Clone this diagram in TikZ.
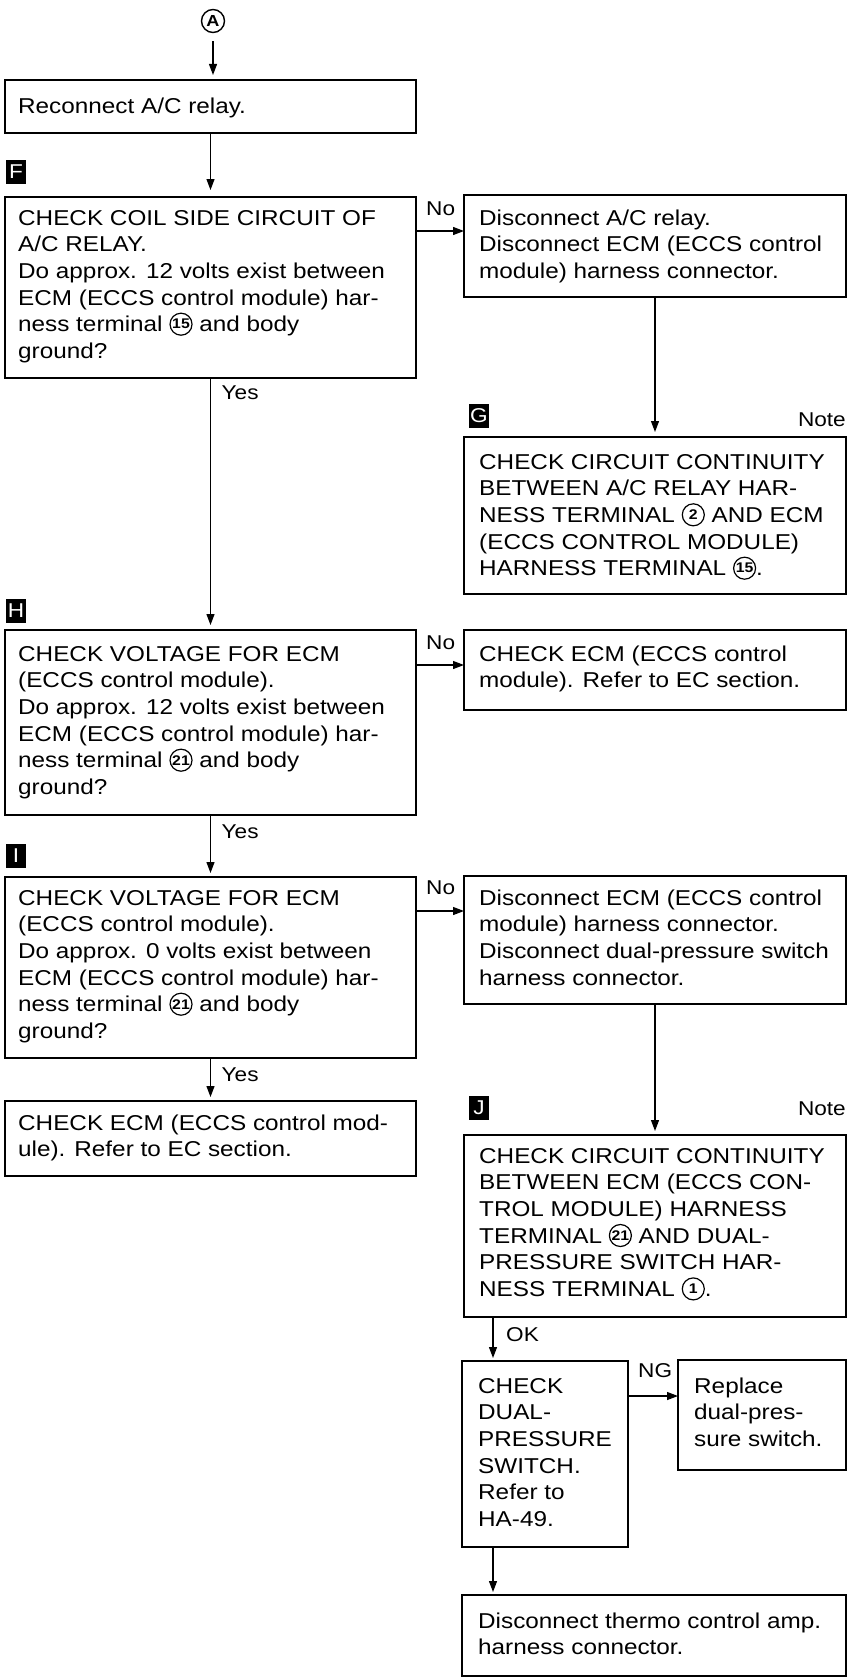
\documentclass[tikz,border=0pt]{standalone}
\usepackage{fontspec}
\setmainfont{Liberation Sans}[FakeStretch=1.13]
\usetikzlibrary{arrows.meta,calc}
\newcommand\cn[1]{\tikz[baseline=-7.6pt]{\draw[line width=1.2pt] (0,0) circle (11pt); \node[anchor=center,inner sep=0pt,draw=none,fill=none,text=black,font=\fontsize{14}{14}\selectfont\bfseries] at (0,0) {#1};}}
\newcommand\bt[1]{\parbox[t]{500pt}{\raggedright #1}}
\begin{document}
\begin{tikzpicture}[x=1pt,y=-1pt,
  box/.style={draw, line width=1.6pt, anchor=north west, inner sep=0pt, outer sep=0pt, rectangle},
  txt/.style={anchor=base west, inner sep=0pt, font=\fontsize{21.5}{26.7}\selectfont},
  lab/.style={fill=black, text=white, minimum width=20pt, minimum height=24pt, inner sep=0pt, font=\fontsize{20}{20}\selectfont},
  arr/.style={line width=1.2pt, -{Triangle[length=11pt,width=8pt]}},
  lbl/.style={inner sep=0pt, font=\fontsize{20}{20}\selectfont}]
\useasboundingbox[fill=white] (0,0) rectangle (853,1678);

% start connector
\node[circle, draw, line width=1.4pt, minimum size=23pt, inner sep=0pt, font=\fontsize{16}{16}\selectfont\bfseries] (A) at (213,21) {A};

% boxes
\node[box, minimum width=411pt, minimum height=53pt]  (R)  at (5,80) {};
\node[box, minimum width=411pt, minimum height=181pt] (F)  at (5,197) {};
\node[box, minimum width=382pt, minimum height=102pt] (D1) at (464,195) {};
\node[box, minimum width=382pt, minimum height=157pt] (G)  at (464,437) {};
\node[box, minimum width=411pt, minimum height=185pt] (H)  at (5,630) {};
\node[box, minimum width=382pt, minimum height=80pt]  (E1) at (464,630) {};
\node[box, minimum width=411pt, minimum height=181pt] (I)  at (5,877) {};
\node[box, minimum width=382pt, minimum height=128pt] (D2) at (464,876) {};
\node[box, minimum width=411pt, minimum height=75pt]  (E2) at (5,1101) {};
\node[box, minimum width=382pt, minimum height=182pt] (J)  at (464,1135) {};
\node[box, minimum width=166pt, minimum height=186pt] (C)  at (462,1361) {};
\node[box, minimum width=168pt, minimum height=110pt] (P)  at (678,1360) {};
\node[box, minimum width=384pt, minimum height=81pt]  (T)  at (462,1595) {};

% texts
\node[txt] (Rt) at ($(R.north west)+(13,33)$) {\bt{Reconnect A/C relay.}};
\node[txt] (Ft) at ($(F.north west)+(13,28)$) {\bt{CHECK COIL SIDE CIRCUIT OF\\A/C RELAY.\\Do approx. 12 volts exist between\\ECM (ECCS control module) har-\\ness terminal \cn{15} and body\\ground?}};
\node[txt] (D1t) at ($(D1.north west)+(15,30)$) {\bt{Disconnect A/C relay.\\Disconnect ECM (ECCS control\\module) harness connector.}};
\node[txt] (Gt) at ($(G.north west)+(15,32)$) {\bt{CHECK CIRCUIT CONTINUITY\\BETWEEN A/C RELAY HAR-\\NESS TERMINAL \cn{2} AND ECM\\(ECCS CONTROL MODULE)\\HARNESS TERMINAL \cn{15}.}};
\node[txt] (Ht) at ($(H.north west)+(13,31)$) {\bt{CHECK VOLTAGE FOR ECM\\(ECCS control module).\\Do approx. 12 volts exist between\\ECM (ECCS control module) har-\\ness terminal \cn{21} and body\\ground?}};
\node[txt] (E1t) at ($(E1.north west)+(15,31)$) {\bt{CHECK ECM (ECCS control\\module). Refer to EC section.}};
\node[txt] (It) at ($(I.north west)+(13,28)$) {\bt{CHECK VOLTAGE FOR ECM\\(ECCS control module).\\Do approx. 0 volts exist between\\ECM (ECCS control module) har-\\ness terminal \cn{21} and body\\ground?}};
\node[txt] (D2t) at ($(D2.north west)+(15,29)$) {\bt{Disconnect ECM (ECCS control\\module) harness connector.\\Disconnect dual-pressure switch\\harness connector.}};
\node[txt] (E2t) at ($(E2.north west)+(13,29)$) {\bt{CHECK ECM (ECCS control mod-\\ule). Refer to EC section.}};
\node[txt] (Jt) at ($(J.north west)+(15,28)$) {\bt{CHECK CIRCUIT CONTINUITY\\BETWEEN ECM (ECCS CON-\\TROL MODULE) HARNESS\\TERMINAL \cn{21} AND DUAL-\\PRESSURE SWITCH HAR-\\NESS TERMINAL \cn{1}.}};
\node[txt] (Ct) at ($(C.north west)+(16,32)$) {\bt{CHECK\\DUAL-\\PRESSURE\\SWITCH.\\Refer to\\HA-49.}};
\node[txt] (Pt) at ($(P.north west)+(16,33)$) {\bt{Replace\\dual-pres-\\sure switch.}};
\node[txt] (Tt) at ($(T.north west)+(16,33)$) {\bt{Disconnect thermo control amp.\\harness connector.}};

% step letters
\node[lab] (Fl) at ($(F.north west)+(11,-25)$) {F};
\node[lab] (Gl) at ($(G.north west)+(15,-21)$) {G};
\node[lab] (Hl) at ($(H.north west)+(11,-19)$) {H};
\node[lab] (Il) at ($(I.north west)+(11,-21)$) {I};
\node[lab] (Jl) at ($(J.north west)+(15,-27)$) {J};
\node[lbl, anchor=east] (Gn) at ([yshift=17pt]G.north east) {Note};
\node[lbl, anchor=east] (Jn) at ([yshift=26pt]J.north east) {Note};

% vertical connectors
\coordinate (cx) at (493,0);
\draw[arr, shorten <=8pt, shorten >=5pt] (A.south) -- (A.south |- R.north);
\draw[arr, shorten >=7pt] (R.south) -- (F.north);
\draw[arr, shorten >=5pt] (F.south) -- (H.north);
\draw[arr, shorten >=4pt] (H.south) -- (I.north);
\draw[arr, shorten >=4pt] (I.south) -- (E2.north);
\draw[arr, shorten >=5pt] (D1.south) -- (G.north);
\draw[arr, shorten >=4pt] (D2.south) -- (J.north);
\draw[arr, shorten >=3pt] (cx |- J.south) -- (cx |- C.north);
\draw[arr, shorten >=3pt] (cx |- C.south) -- (cx |- T.north);

% horizontal connectors
\draw[arr] ([yshift=-34pt]F.north east) -- ([yshift=-34pt]F.north east -| D1.west);
\draw[arr] ([yshift=-35pt]H.north east) -- ([yshift=-35pt]H.north east -| E1.west);
\draw[arr] ([yshift=-34pt]I.north east) -- ([yshift=-34pt]I.north east -| D2.west);
\draw[arr] ([yshift=-35pt]C.north east) -- ([yshift=-35pt]C.north east -| P.west);

% branch labels
\node[lbl, anchor=west] (Fno) at ([xshift=10pt,yshift=-12pt]F.north east) {No};
\node[lbl, anchor=west] (Hno) at ([xshift=10pt,yshift=-13pt]H.north east) {No};
\node[lbl, anchor=west] (Ino) at ([xshift=10pt,yshift=-11pt]I.north east) {No};
\node[lbl, anchor=west] (Cng) at ([xshift=10pt,yshift=-10pt]C.north east) {NG};
\node[lbl, anchor=west] (Fyes) at ([xshift=11pt,yshift=-15pt]F.south) {Yes};
\node[lbl, anchor=west] (Hyes) at ([xshift=11pt,yshift=-17pt]H.south) {Yes};
\node[lbl, anchor=west] (Iyes) at ([xshift=11pt,yshift=-17pt]I.south) {Yes};
\node[lbl, anchor=west] (Jok) at ($(cx |- J.south)+(13,18)$) {OK};
\end{tikzpicture}
\end{document}
